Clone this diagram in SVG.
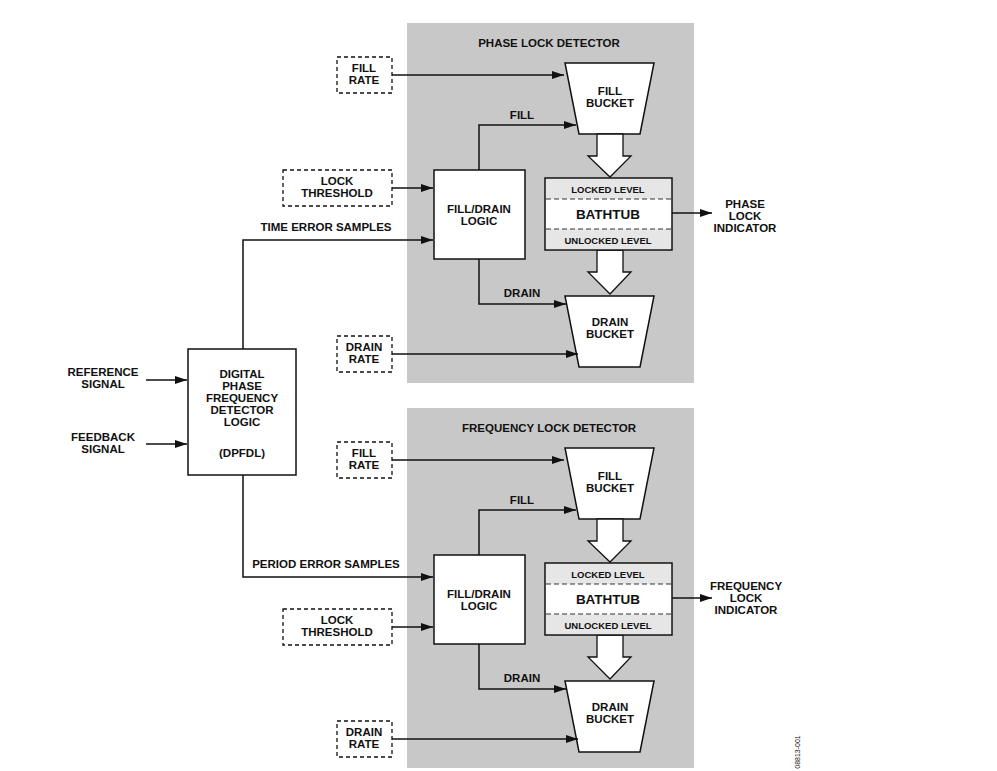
<svg xmlns="http://www.w3.org/2000/svg" width="997" height="771" viewBox="0 0 997 771">
<defs>
<style>
text{font-family:"Liberation Sans",Arial,sans-serif;font-weight:bold;font-size:11.5px;fill:#111;text-anchor:middle}
.panel{fill:#c8c8c8}
.box{fill:#fff;stroke:#111;stroke-width:1.5}
.dash{fill:#fff;stroke:#111;stroke-width:1.3;stroke-dasharray:4,3}
.ln{fill:none;stroke:#111;stroke-width:1.5}
.ha{fill:#fff;stroke:#111;stroke-width:1.3}
.band{fill:#e6e6e6}
.dl{stroke:#333;stroke-width:1.2;stroke-dasharray:5,3}
</style>
<marker id="a" markerWidth="12" markerHeight="8" refX="12" refY="4" orient="auto" markerUnits="userSpaceOnUse"><path d="M0,0L12,4L0,8z" fill="#111"/></marker>
<g id="det">
<rect class="panel" x="407" y="23" width="287" height="360"/>
<path class="box" d="M565,63H654L640,134H579Z"/>
<path class="box" d="M565,296H654L640,367H579Z"/>
<path class="ha" d="M597,134H623V156H631L610,177L588,156H597Z"/>
<path class="ha" d="M597,250H623V272H631L610,294L588,272H597Z"/>
<rect class="box" x="545" y="178" width="127" height="72"/>
<rect class="band" x="546" y="179" width="125" height="20"/>
<rect class="band" x="546" y="229" width="125" height="20"/>
<line class="dl" x1="546" y1="199" x2="671" y2="199"/>
<line class="dl" x1="546" y1="229" x2="671" y2="229"/>
<rect class="box" x="434" y="170" width="91" height="89"/>
<rect class="dash" x="337" y="57" width="55" height="36"/>
<rect class="dash" x="337" y="336" width="55" height="36"/>
<text x="364" y="72">FILL</text><text x="364" y="84">RATE</text>
<text x="364" y="351">DRAIN</text><text x="364" y="363">RATE</text>
<text x="610" y="95">FILL</text><text x="610" y="107">BUCKET</text>
<text x="610" y="326">DRAIN</text><text x="610" y="338">BUCKET</text>
<text x="479" y="213">FILL/DRAIN</text><text x="479" y="225">LOGIC</text>
<text x="608" y="193" style="font-size:9.5px">LOCKED LEVEL</text>
<text x="608" y="219" style="font-size:13.5px">BATHTUB</text>
<text x="608" y="244" style="font-size:9.5px">UNLOCKED LEVEL</text>
<text x="522" y="119">FILL</text>
<text x="522" y="297">DRAIN</text>
<path class="ln" d="M392,75H564" marker-end="url(#a)"/>
<path class="ln" d="M479,170V125H576" marker-end="url(#a)"/>
<path class="ln" d="M479,259V304H566" marker-end="url(#a)"/>
<path class="ln" d="M392,354H578" marker-end="url(#a)"/>
<path class="ln" d="M672,213H712" marker-end="url(#a)"/>
</g>
</defs>
<g id="phase-lock-detector">
<use href="#det"/>
<text x="549" y="47">PHASE LOCK DETECTOR</text>
<rect class="dash" x="283" y="170" width="109" height="36"/>
<text x="337" y="185">LOCK</text><text x="337" y="197">THRESHOLD</text>
<text x="745" y="208">PHASE</text><text x="745" y="220">LOCK</text><text x="745" y="232">INDICATOR</text>
</g>
<g id="frequency-lock-detector">
<use href="#det" y="385"/>
<text x="549" y="432">FREQUENCY LOCK DETECTOR</text>
<rect class="dash" x="283" y="609" width="109" height="36"/>
<text x="337" y="624">LOCK</text><text x="337" y="636">THRESHOLD</text>
<text x="746" y="590">FREQUENCY</text><text x="746" y="602">LOCK</text><text x="746" y="614">INDICATOR</text>
</g>
<g id="dpfdl">
<rect class="box" x="188" y="349" width="108" height="126"/>
<text x="242" y="378">DIGITAL</text><text x="242" y="390">PHASE</text><text x="242" y="402">FREQUENCY</text><text x="242" y="414">DETECTOR</text><text x="242" y="426">LOGIC</text>
<text x="242" y="457">(DPFDL)</text>
</g>
<g id="inputs">
<text x="103" y="376">REFERENCE</text><text x="103" y="388">SIGNAL</text>
<text x="103" y="441">FEEDBACK</text><text x="103" y="453">SIGNAL</text>
</g>
<g id="connectors">
<path class="ln" d="M146,380H187" marker-end="url(#a)"/>
<path class="ln" d="M146,444H187" marker-end="url(#a)"/>
<path class="ln" d="M243,349V240H433" marker-end="url(#a)"/>
<path class="ln" d="M392,188H433" marker-end="url(#a)"/>
<path class="ln" d="M243,475V577H433" marker-end="url(#a)"/>
<path class="ln" d="M392,627H433" marker-end="url(#a)"/>
<text x="326" y="231">TIME ERROR SAMPLES</text>
<text x="326" y="568">PERIOD ERROR SAMPLES</text>
</g>
<text x="0" y="0" transform="translate(800,752) rotate(-90)" style="font-size:7px;font-weight:normal">08813-001</text>
</svg>
